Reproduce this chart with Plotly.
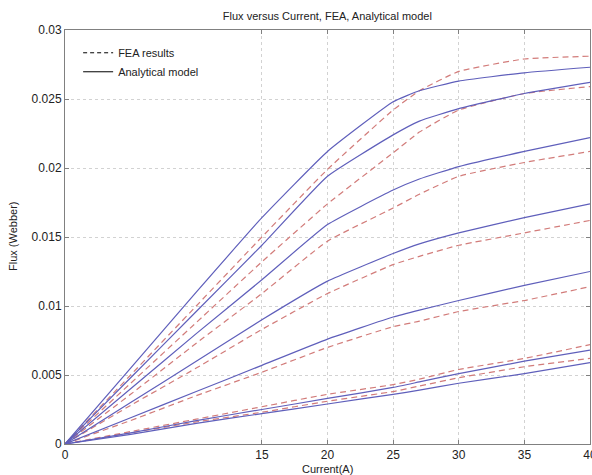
import plotly.graph_objects as go

# Current (A)
current = [0, 5, 10, 15, 20, 25, 27, 30, 35, 40]

# Analytical model (solid) flux (Wb)
analytical = [
    [0, 0.0055, 0.0110, 0.0164, 0.0212, 0.0248, 0.0256, 0.0263, 0.0269, 0.0273],
    [0, 0.0048, 0.0096, 0.0144, 0.0194, 0.0224, 0.0234, 0.0243, 0.0254, 0.0262],
    [0, 0.0040, 0.0080, 0.0119, 0.0159, 0.0184, 0.0192, 0.0201, 0.0212, 0.0222],
    [0, 0.0030, 0.0060, 0.0090, 0.0118, 0.0138, 0.0145, 0.0153, 0.0164, 0.0174],
    [0, 0.0019, 0.0038, 0.0057, 0.0076, 0.0092, 0.0097, 0.0104, 0.0115, 0.0125],
    [0, 0.0008, 0.0017, 0.0025, 0.0033, 0.0041, 0.0045, 0.0051, 0.0060, 0.0068],
    [0, 0.0007, 0.0015, 0.0022, 0.0029, 0.0036, 0.0039, 0.0044, 0.0051, 0.0059],
]

# FEA results (dashed) flux (Wb)
fea = [
    [0, 0.0050, 0.0100, 0.0150, 0.0199, 0.0242, 0.0256, 0.0270, 0.0279, 0.0281],
    [0, 0.0044, 0.0088, 0.0132, 0.0174, 0.0211, 0.0226, 0.0242, 0.0254, 0.0259],
    [0, 0.0036, 0.0073, 0.0109, 0.0147, 0.0171, 0.0181, 0.0194, 0.0204, 0.0212],
    [0, 0.0028, 0.0055, 0.0083, 0.0109, 0.0130, 0.0136, 0.0144, 0.0153, 0.0162],
    [0, 0.0017, 0.0035, 0.0052, 0.0070, 0.0085, 0.0089, 0.0096, 0.0104, 0.0114],
    [0, 0.0009, 0.0018, 0.0027, 0.0036, 0.0043, 0.0047, 0.0054, 0.0062, 0.0072],
    [0, 0.0008, 0.0016, 0.0023, 0.0031, 0.0038, 0.0042, 0.0048, 0.0056, 0.0062],
]

x_ticks = [0, 15, 20, 25, 30, 35, 40]
y_ticks = [0, 0.005, 0.01, 0.015, 0.02, 0.025, 0.03]
y_tick_labels = ["0", "0.005", "0.01", "0.015", "0.02", "0.025", "0.03"]

SOLID = "#5f5fbb"
DASHED = "#d27c7a"
FONT = "Liberation Sans, Arial, sans-serif"

fig = go.Figure()

for ys in fea:
    fig.add_trace(go.Scatter(x=current, y=ys, mode="lines", showlegend=False,
                             line=dict(color=DASHED, width=1.2, dash="6px,4px",
                                       shape="spline", smoothing=0.4),
                             hoverinfo="skip"))
for ys in analytical:
    fig.add_trace(go.Scatter(x=current, y=ys, mode="lines", showlegend=False,
                             line=dict(color=SOLID, width=1.2,
                                       shape="spline", smoothing=0.4),
                             hoverinfo="skip"))

# legend entries
fig.add_trace(go.Scatter(x=[None], y=[None], mode="lines", name="FEA results",
                         line=dict(color="black", width=1, dash="4px,3px")))
fig.add_trace(go.Scatter(x=[None], y=[None], mode="lines", name="Analytical model",
                         line=dict(color="black", width=1)))

axis_common = dict(
    showline=True, linecolor="#808080", linewidth=1, mirror="ticks",
    ticks="inside", ticklen=4, tickcolor="#808080",
    showgrid=True, gridcolor="#d2d2d2", griddash="dot", gridwidth=1,
    zeroline=False, automargin=False,
    tickfont=dict(family=FONT, size=12, color="#222"),
)

fig.update_layout(
    width=592, height=475,
    margin=dict(l=65, r=2, t=30, b=31),
    paper_bgcolor="white", plot_bgcolor="white",
    font=dict(family=FONT, size=11, color="#222"),
    title=dict(text="Flux versus Current, FEA, Analytical model",
               x=0.553, xanchor="center", y=1 - 16 / 475, yanchor="middle",
               font=dict(family=FONT, size=11, color="#222")),
    xaxis=dict(range=[0, 40], tickvals=x_ticks, ticklabeloverflow="allow",
               **axis_common),
    yaxis=dict(range=[0, 0.03], tickvals=y_ticks, ticktext=y_tick_labels,
               **axis_common),
    legend=dict(x=0.025, y=0.98, xanchor="left", yanchor="top",
                bgcolor="rgba(0,0,0,0)", borderwidth=0,
                font=dict(family=FONT, size=11, color="#222"),
                itemwidth=30, tracegroupgap=0),
    annotations=[
        dict(text="Current(A)", xref="paper", yref="paper", x=0.5, y=-0.06,
             xanchor="center", yanchor="middle", showarrow=False,
             font=dict(family=FONT, size=11, color="#222")),
        dict(text="Flux (Webber)", xref="paper", yref="paper", x=-0.099, y=0.5,
             xanchor="center", yanchor="middle", showarrow=False, textangle=-90,
             font=dict(family=FONT, size=11, color="#222")),
    ],
)

fig.write_html("out.html")
